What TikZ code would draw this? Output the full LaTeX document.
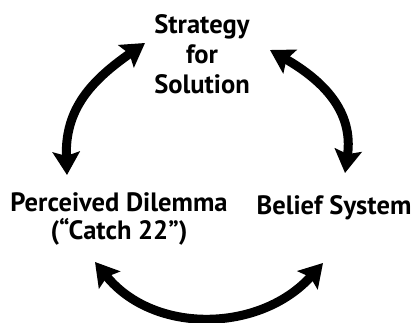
\documentclass[tikz,border=0pt]{standalone}
\usepackage{fontspec}
\setmainfont{PT Sans}
\usepackage{xcolor}
\usepackage{tikz}
\usetikzlibrary{arrows.meta}
\tikzset{
    cyclabel/.style={font=\bfseries\fontsize{15.1}{17}\selectfont, text=inkblack, align=center, inner sep=0pt},
    cycarrow/.style={{Stealth[length=0.46cm, width=0.54cm, inset=0.08cm]}-{Stealth[length=0.46cm, width=0.54cm, inset=0.08cm]}, line width=0.18cm, draw=inkblack}
}
\definecolor{inkblack}{RGB}{0,0,0}

\begin{document}
\begin{tikzpicture}[x=0.02cm, y=0.02cm]
\useasboundingbox (0,0) rectangle (412,323);

\node[cyclabel] (strategy) at (202,269) {Strategy\\for\\Solution};
\node[cyclabel, font=\bfseries\fontsize{15.1}{16}\selectfont] (dilemma) at (119,104) {Perceived Dilemma\\(``Catch 22'')};
\node[cyclabel] (belief) at (334,115) {Belief System};

\draw[cycarrow] ([shift={(-52,44)}]dilemma.center) to[out=92, in=215, looseness=1.1] ([shift={(-57,11)}]strategy.center);
\draw[cycarrow] ([shift={(68,4)}]strategy.center) to[out=-30, in=82, looseness=1.1] ([shift={(11,35)}]belief.center);
\draw[cycarrow] ([shift={(-24,-43)}]dilemma.center) to[out=-51, in=228, looseness=1.05] ([shift={(-11,-55)}]belief.center);

\end{tikzpicture}
\end{document}
